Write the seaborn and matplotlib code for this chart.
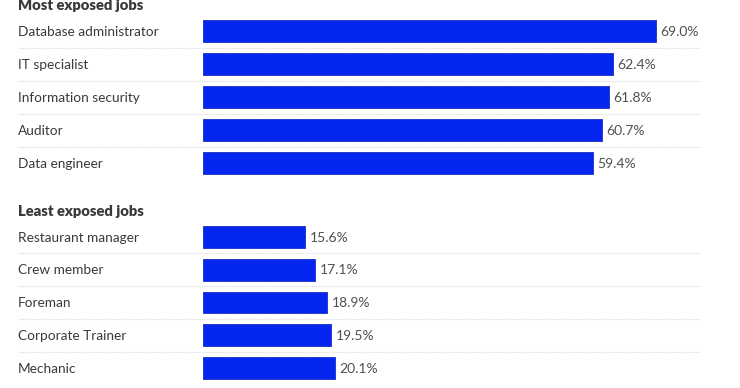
import matplotlib
matplotlib.use("Agg")
import matplotlib.pyplot as plt
import matplotlib.transforms as mtransforms
import seaborn as sns
import pandas as pd

sns.set_theme(style="white")
plt.rcParams["font.family"] = ["Lato", "DejaVu Sans"]

# --- data ---
most_jobs = ["Database administrator", "IT specialist", "Information security", "Auditor", "Data engineer"]
most_vals = [69.0, 62.4, 61.8, 60.7, 59.4]
least_jobs = ["Restaurant manager", "Crew member", "Foreman", "Corporate Trainer", "Mechanic"]
least_vals = [15.6, 17.1, 18.9, 19.5, 20.1]

bar_color = "#0526F0"
text_color = "#3a3a3a"
W, H = 740, 388

fig = plt.figure(figsize=(W / 100, H / 100), dpi=100)

x0, x1 = 203, 700
xmax = (x1 - x0) / ((656 - 203) / 69.0)


def panel(top_px, bottom_px, jobs, vals, title):
    ax = fig.add_axes([x0 / W, 1 - bottom_px / H, (x1 - x0) / W, (bottom_px - top_px) / H])
    df = pd.DataFrame({"job": jobs, "val": vals})
    sns.barplot(data=df, x="val", y="job", ax=ax, color=bar_color, width=0.67,
                saturation=1, edgecolor="#1a2fc0", linewidth=0.6)
    ax.set_xlim(0, xmax)
    ax.set_ylim(len(jobs) - 0.5, -0.5)
    ax.axis("off")
    trans = mtransforms.blended_transform_factory(fig.transFigure, ax.transData)
    for i, (j, v) in enumerate(zip(jobs, vals)):
        ax.text(18 / W, i + 0.02, j, transform=trans, ha="left", va="center",
                fontsize=9.8, color=text_color)
        ax.text(v + 0.7, i + 0.02, f"{v:.1f}%", ha="left", va="center",
                fontsize=10, color="#505050")
        if i < len(jobs) - 1:
            ax.plot([18 / W, x1 / W], [i + 0.5, i + 0.5], transform=trans,
                    color="#e4e4e4", lw=0.8, ls=(0, (2, 1)), clip_on=False)
    fig.text(18 / W, 1 - (top_px - 8.5) / H, title, ha="left", va="center",
             fontsize=10.6, fontweight="heavy", color=text_color)
    return ax


panel(14.5, 179.5, most_jobs, most_vals, "Most exposed jobs")
panel(220.5, 384.5, least_jobs, least_vals, "Least exposed jobs")

fig.savefig("out.png", dpi=100, facecolor="white")
